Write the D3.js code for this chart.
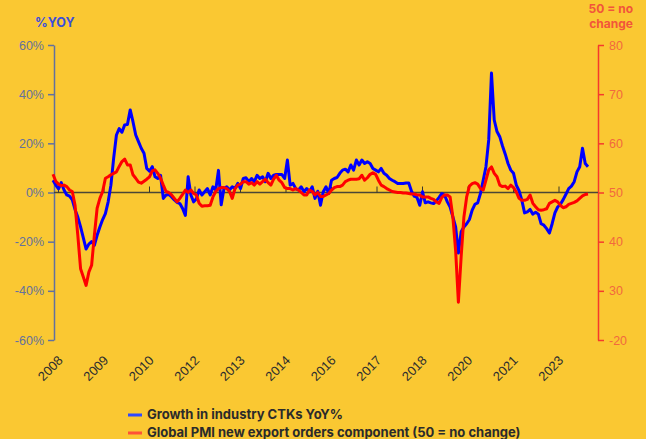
<!DOCTYPE html>
<html>
<head>
<meta charset="utf-8">
<script src="https://cdn.jsdelivr.net/npm/d3@7"></script>
<style>
  body { margin: 0; background: #FAC832; }
  svg { display: block; font-family: Inter, "Open Sans", sans-serif; }
</style>
</head>
<body>
<div id="chart"></div>
<script>
var width = 646, height = 439;

// monthly points, Jan 2008 onwards
var ctkGrowth = [5, 3, 1.5, 4, 1, -1, -1.5, -3, -7, -10, -14, -18.5, -23, -21, -20, -21.5, -17.4, -14, -11, -8.6,
  -3.8, 3, 14, 23.4, 26, 24.5, 27.5, 27.7, 33.6, 28.8, 23.4, 20.7, 18, 16, 9.8, 8.7, 10.5, 6.4, 5.7, 7,
  -2.4, -1, -0.8, -1.8, -3, -4, -4.5, -6.5, -9.3, 6.4, -1, -3.8, -2.5, 1, -1, 0.3, 1.6, -1, 2.3, 1,
  9, -5, 1.6, 2.3, 1, 2.3, 1.6, 3.7, 1.6, 5.7, 6, 4.4, 5.7, 4.4, 7, 5.7, 6.4, 4.4, 7.8, 5.7,
  7, 7.3, 7.3, 7.3, 5.7, 13.2, 3, 3.7, 1.6, 1, 2.3, 0.3, 1.6, 0.3, 2.3, -2.4, 0.5, -5.2, 0.3, 2.3,
  -0.4, 5, 5.7, 6.1, 7.8, 9.1, 9.5, 8.4, 11.2, 9.1, 13.2, 11.2, 13.2, 11.8, 12.5, 11.8, 9.8, 9.1, 8.4, 9.8,
  7.8, 7, 5.7, 5, 4.4, 3.7, 3.7, 3.7, 3.9, 3.9, 0.5, -1.5, -2, -5.2, 0.3, -4.2, -3.8, -4.2, -4.5, -3.4,
  -2, -0.4, -1.1, -3.8, -5.9, -9.9, -14, -24.6, -16, -14, -12.7, -11, -7.2, -4.8, -4.2, -0.4, 5, 10.5, 21.4, 48.6,
  29.5, 24.8, 22.7, 18.9, 15.6, 11.8, 9.1, 7.8, 3, 0.7, -3.1, -8.3, -7.9, -6.9, -8.8, -8, -8.8, -12.7, -13.3, -14.7,
  -16.5, -12.7, -8.3, -5.9, -4.8, -2.9, -0.7, 1.6, 2.6, 4.4, 8.4, 10.5, 18, 11.8, 10.5];

var pmiExport = [53.7, 52.3, 51.7, 51.4, 51.5, 51.2, 50.5, 50.2, 47.4, 41.3, 34.5, 32.8, 31.1, 33.8, 35.2, 41.3, 46.8, 48.8, 50.2, 52.9,
  53.2, 53.6, 53.9, 54.2, 55.3, 56.3, 56.8, 55.6, 55.6, 53.6, 52.9, 52.1, 51.9, 52.3, 52.7, 53.2, 54.4, 54.6, 53.9, 52.9,
  51.5, 50.2, 50, 49.5, 48.8, 48.1, 48.8, 49.6, 50.5, 50, 50.5, 49.8, 49.5, 47.8, 47.2, 47.3, 47.3, 47.4, 49.1, 50.2,
  50.8, 51, 51, 50.8, 50.2, 48.8, 50.8, 51.5, 51.7, 52.2, 52.2, 51.7, 52, 51.5, 52.2, 51.7, 52.2, 52.7, 52, 51.5,
  52.7, 53.5, 52.5, 52, 51, 50.8, 50.8, 50.5, 50.8, 50.5, 50, 49.5, 49.5, 50.5, 50.2, 49.5, 50, 49.2, 49.2, 49.5,
  49.8, 50.5, 51, 51.2, 51.2, 51.5, 52.2, 52.5, 52.7, 52.7, 52.7, 52.8, 53.5, 52.5, 53, 53.7, 54, 53.7, 52.5, 51.5,
  51.2, 50.8, 50.5, 50.2, 50.1, 50, 50, 49.9, 49.9, 49.8, 49.7, 49.7, 49.5, 49.5, 49.1, 49.1, 49.1, 48.8, 48.6, 48.1,
  47.8, 49, 49.5, 49.5, 49.1, 45, 38.2, 27.7, 36.9, 45, 49.1, 51.3, 51.8, 52, 51.7, 50.8, 50.5, 52.5, 54.6, 55.2,
  53.9, 53.2, 51.5, 51.2, 51.3, 50.8, 51.5, 51, 50.1, 48.8, 48.4, 48.4, 48.6, 49.5, 47.8, 47.1, 46.5, 46.4, 46.5, 46.7,
  47.8, 48.1, 48.4, 48.1, 47.4, 46.9, 47.1, 47.6, 47.8, 48, 48.3, 48.8, 49.3, 49.6, 49.7];

var xTickLabels = ["2008", "2009", "2010", "2012", "2013", "2014", "2016", "2017", "2018", "2020", "2021", "2023"];
var leftTicks = [-60, -40, -20, 0, 20, 40, 60];
var rightTicks = [20, 30, 40, 50, 60, 70, 80];
var rightTickLabels = ["-20", "30", "40", "50", "60", "70", "80"];
var rightTitle = ["50 = no", "change"];
var legendLabels = ["Growth in industry CTKs YoY%", "Global PMI new export orders component (50 = no change)"];

var svg = d3.select("#chart").append("svg")
    .attr("width", width)
    .attr("height", height);

svg.append("rect").attr("width", width).attr("height", height).attr("fill", "#FAC832");

// scales
var x = d3.scaleLinear().domain([0, ctkGrowth.length - 1]).range([53, 588]);
var xTick = d3.scalePoint().domain(xTickLabels).range([58, 558.5]);
var yL = d3.scaleLinear().domain([-60, 60]).range([340, 45]);
var yR = d3.scaleLinear().domain([20, 80]).range([340, 45]);

// left axis
var gl = svg.append("g")
    .attr("transform", "translate(54,0)")
    .call(d3.axisLeft(yL).tickValues(leftTicks).tickSize(6).tickSizeOuter(0).tickPadding(4)
        .tickFormat(d => d + "%"));
gl.selectAll("path, line").attr("stroke", "#62709f").attr("stroke-width", 1.5);
gl.selectAll("text").attr("fill", "#64719c").style("font-size", "12.5px");

// right axis
var gr = svg.append("g")
    .attr("transform", "translate(598,0)")
    .call(d3.axisRight(yR).tickValues(rightTicks).tickSize(6).tickSizeOuter(0).tickPadding(5)
        .tickFormat((d, i) => rightTickLabels[i]));
gr.selectAll("path, line").attr("stroke", "#f53a2c").attr("stroke-width", 1.5);
gr.selectAll("text").attr("fill", "#f2683e").style("font-size", "12.5px");

// zero line with small ticks
svg.append("line")
    .attr("x1", 54).attr("x2", 598)
    .attr("y1", yL(0)).attr("y2", yL(0))
    .attr("stroke", "#4a4636").attr("stroke-width", 1.5);

var gz = svg.append("g")
    .attr("transform", "translate(0," + yL(0) + ")")
    .call(d3.axisBottom(xTick).tickSize(-6).tickFormat(""));
gz.select(".domain").remove();
gz.selectAll("line").attr("stroke", "#3a3628").attr("stroke-width", 1);

// x labels at the bottom
var gx = svg.append("g")
    .attr("transform", "translate(2,358)")
    .call(d3.axisBottom(xTick).tickSize(0).tickPadding(0));
gx.select(".domain").remove();
gx.selectAll("text")
    .attr("y", 0)
    .attr("dy", "0.35em")
    .attr("text-anchor", "end")
    .attr("transform", "rotate(-45)")
    .attr("fill", "#2e2e2e")
    .style("font-size", "13px");

// lines
var lineL = d3.line().x((d, i) => x(i)).y(d => yL(d));
var lineR = d3.line().x((d, i) => x(i)).y(d => yR(d));

svg.append("path")
    .datum(ctkGrowth)
    .attr("d", lineL)
    .attr("fill", "none")
    .attr("stroke", "#0000ff")
    .attr("stroke-width", 3)
    .attr("stroke-linejoin", "round");

svg.append("path")
    .datum(pmiExport)
    .attr("d", lineR)
    .attr("fill", "none")
    .attr("stroke", "#ff0000")
    .attr("stroke-width", 3)
    .attr("stroke-linejoin", "round");

// axis titles
svg.append("text")
    .attr("x", 35).attr("y", 27)
    .attr("fill", "#3a4fdc")
    .style("font-size", "12.5px").style("font-weight", "bold")
    .text("%YOY");

svg.selectAll(".rtitle")
    .data(rightTitle)
    .enter().append("text")
    .attr("class", "rtitle")
    .attr("x", 633)
    .attr("y", (d, i) => 13 + i * 14.5)
    .attr("text-anchor", "end")
    .attr("fill", "#f2553a")
    .style("font-size", "12px").style("font-weight", "bold")
    .text(d => d);

// legend
var legendColors = ["#2f48ff", "#ff5236"];
var lg = svg.selectAll(".legend")
    .data(legendLabels)
    .enter().append("g")
    .attr("class", "legend")
    .attr("transform", (d, i) => "translate(128," + (415 + i * 18) + ")");

lg.append("line")
    .attr("x1", 0).attr("x2", 14)
    .attr("stroke", (d, i) => legendColors[i])
    .attr("stroke-width", 3);

lg.append("text")
    .attr("x", 19).attr("y", 4)
    .attr("fill", "#2b2b2b")
    .style("font-size", "13px").style("font-weight", "bold")
    .text(d => d);
</script>
</body>
</html>
